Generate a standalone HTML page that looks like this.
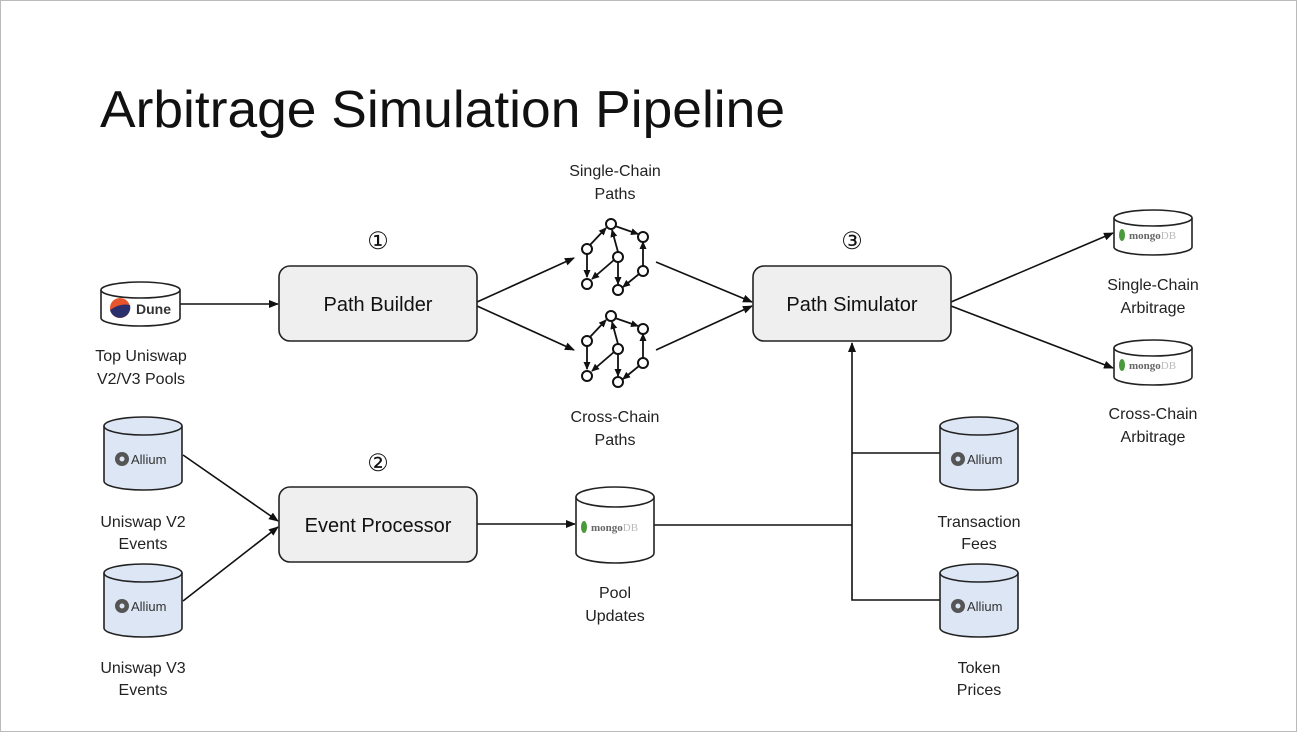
<!DOCTYPE html>
<html><head><meta charset="utf-8"><style>
html,body{margin:0;padding:0;background:#fff;}
svg{display:block;font-family:"Liberation Sans",sans-serif;}
</style></head><body>
<svg width="1297" height="732" viewBox="0 0 1297 732" xmlns="http://www.w3.org/2000/svg">
<defs>
<marker id="a" markerWidth="10" markerHeight="10" refX="9" refY="5" orient="auto" markerUnits="userSpaceOnUse"><path d="M0,1 L10,5 L0,9 z" fill="#111"/></marker>
<marker id="s" markerWidth="8" markerHeight="8" refX="7" refY="4" orient="auto" markerUnits="userSpaceOnUse"><path d="M0,0.5 L8,4 L0,7.5 z" fill="#111"/></marker>
<g id="graph" stroke="#111" stroke-width="1.8" fill="none">
<line x1="590" y1="245" x2="606" y2="228" marker-end="url(#s)"/>
<line x1="615" y1="226" x2="638" y2="234" marker-end="url(#s)"/>
<line x1="618" y1="252" x2="612" y2="230" marker-end="url(#s)"/>
<line x1="587" y1="254" x2="587" y2="277" marker-end="url(#s)"/>
<line x1="614" y1="260" x2="592" y2="279" marker-end="url(#s)"/>
<line x1="618" y1="262" x2="618" y2="284" marker-end="url(#s)"/>
<line x1="643" y1="266" x2="643" y2="242" marker-end="url(#s)"/>
<line x1="639" y1="274" x2="623" y2="287" marker-end="url(#s)"/>
<g stroke-width="2" fill="#fff">
<circle cx="611" cy="224" r="5"/><circle cx="643" cy="237" r="5"/><circle cx="587" cy="249" r="5"/>
<circle cx="618" cy="257" r="5"/><circle cx="643" cy="271" r="5"/><circle cx="587" cy="284" r="5"/><circle cx="618" cy="290" r="5"/>
</g></g>
<g id="mgs">
<g stroke="#222" stroke-width="1.6">
<path d="M576,495 V524 A39,8 0 0 0 654,524 V495" fill="#fff"/>
<ellipse cx="615" cy="495" rx="39" ry="8" fill="#fff"/>
</g>
<ellipse cx="584" cy="512" rx="3" ry="6" fill="#4a9a3c"/>
<text x="591" y="516" font-size="11" font-family="Liberation Serif,serif" font-weight="bold" fill="#666">mongo<tspan fill="#bbb" font-weight="normal">DB</tspan></text>
</g>
</defs>
<rect x="0.5" y="0.5" width="1296" height="731" fill="#fff" stroke="#bbb"/>
<text x="100" y="127" font-size="52" fill="#111" textLength="685" lengthAdjust="spacingAndGlyphs">Arbitrage Simulation Pipeline</text>

<g stroke="#111" stroke-width="1.6" fill="none">
<line x1="180" y1="304" x2="278" y2="304" marker-end="url(#a)"/>
<line x1="477" y1="302" x2="574" y2="258" marker-end="url(#a)"/>
<line x1="477" y1="306" x2="574" y2="350" marker-end="url(#a)"/>
<line x1="656" y1="262" x2="752" y2="302" marker-end="url(#a)"/>
<line x1="656" y1="350" x2="752" y2="306" marker-end="url(#a)"/>
<line x1="951" y1="302" x2="1113" y2="233" marker-end="url(#a)"/>
<line x1="951" y1="306" x2="1113" y2="368" marker-end="url(#a)"/>
<line x1="183" y1="455" x2="278" y2="521" marker-end="url(#a)"/>
<line x1="183" y1="601" x2="278" y2="527" marker-end="url(#a)"/>
<line x1="477" y1="524" x2="575" y2="524" marker-end="url(#a)"/>
<line x1="654" y1="525" x2="852" y2="525"/>
<polyline points="940,600 852,600 852,343" marker-end="url(#a)"/>
<line x1="852" y1="453" x2="940" y2="453"/>
</g>

<use href="#graph"/>
<use href="#graph" transform="translate(0,92)"/>

<g fill="#efefef" stroke="#222" stroke-width="1.6">
<rect x="279" y="266" width="198" height="75" rx="11"/>
<rect x="279" y="487" width="198" height="75" rx="11"/>
<rect x="753" y="266" width="198" height="75" rx="11"/>
</g>
<g font-size="20" text-anchor="middle" fill="#111">
<text x="378" y="311">Path Builder</text>
<text x="378" y="532">Event Processor</text>
<text x="852" y="311">Path Simulator</text>
</g>
<g font-size="24" text-anchor="middle" fill="#111">
<text x="378" y="249">①</text><text x="378" y="471">②</text><text x="852" y="249">③</text>
</g>

<g stroke="#222" stroke-width="1.6">
<path d="M101,290 V318 A39.5,8 0 0 0 180,318 V290" fill="#fff"/>
<ellipse cx="140.5" cy="290" rx="39.5" ry="8" fill="#fff"/>
</g>
<circle cx="120" cy="308" r="10" fill="#e8542c"/>
<path d="M110,310 Q120,303 130,305 A10,10 0 0 1 110,310 z" fill="#2b2f6b"/>
<text x="136" y="314" font-size="14" font-weight="bold" fill="#333">Dune</text>

<g id="al">
<g stroke="#222" stroke-width="1.6">
<path d="M104,426 V481 A39,9 0 0 0 182,481 V426" fill="#dce6f4"/>
<ellipse cx="143" cy="426" rx="39" ry="9" fill="#dce6f4"/>
</g>
<circle cx="122" cy="459" r="7" fill="#555"/><circle cx="122" cy="459" r="2.5" fill="#dce6f4"/>
<text x="131" y="464" font-size="13" fill="#333">Allium</text>
</g>
<use href="#al" transform="translate(0,147)"/>
<use href="#al" transform="translate(836,0)"/>
<use href="#al" transform="translate(836,147)"/>

<g>
<g stroke="#222" stroke-width="1.6">
<path d="M576,497 V553 A39,10 0 0 0 654,553 V497" fill="#fff"/>
<ellipse cx="615" cy="497" rx="39" ry="10" fill="#fff"/>
</g>
<ellipse cx="584" cy="527" rx="3" ry="6" fill="#4a9a3c"/>
<text x="591" y="531" font-size="11" font-family="Liberation Serif,serif" font-weight="bold" fill="#666">mongo<tspan fill="#bbb" font-weight="normal">DB</tspan></text>
</g>
<use href="#mgs" transform="translate(538,-277)"/>
<use href="#mgs" transform="translate(538,-147)"/>

<g font-size="16" text-anchor="middle" fill="#222">
<text x="141" y="361">Top Uniswap</text><text x="141" y="384">V2/V3 Pools</text>
<text x="143" y="527">Uniswap V2</text><text x="143" y="549">Events</text>
<text x="143" y="673">Uniswap V3</text><text x="143" y="695">Events</text>
<text x="615" y="176">Single-Chain</text><text x="615" y="199">Paths</text>
<text x="615" y="422">Cross-Chain</text><text x="615" y="445">Paths</text>
<text x="615" y="598">Pool</text><text x="615" y="621">Updates</text>
<text x="979" y="527">Transaction</text><text x="979" y="549">Fees</text>
<text x="979" y="673">Token</text><text x="979" y="695">Prices</text>
<text x="1153" y="290">Single-Chain</text><text x="1153" y="313">Arbitrage</text>
<text x="1153" y="419">Cross-Chain</text><text x="1153" y="442">Arbitrage</text>
</g>
</svg>
</body></html>
